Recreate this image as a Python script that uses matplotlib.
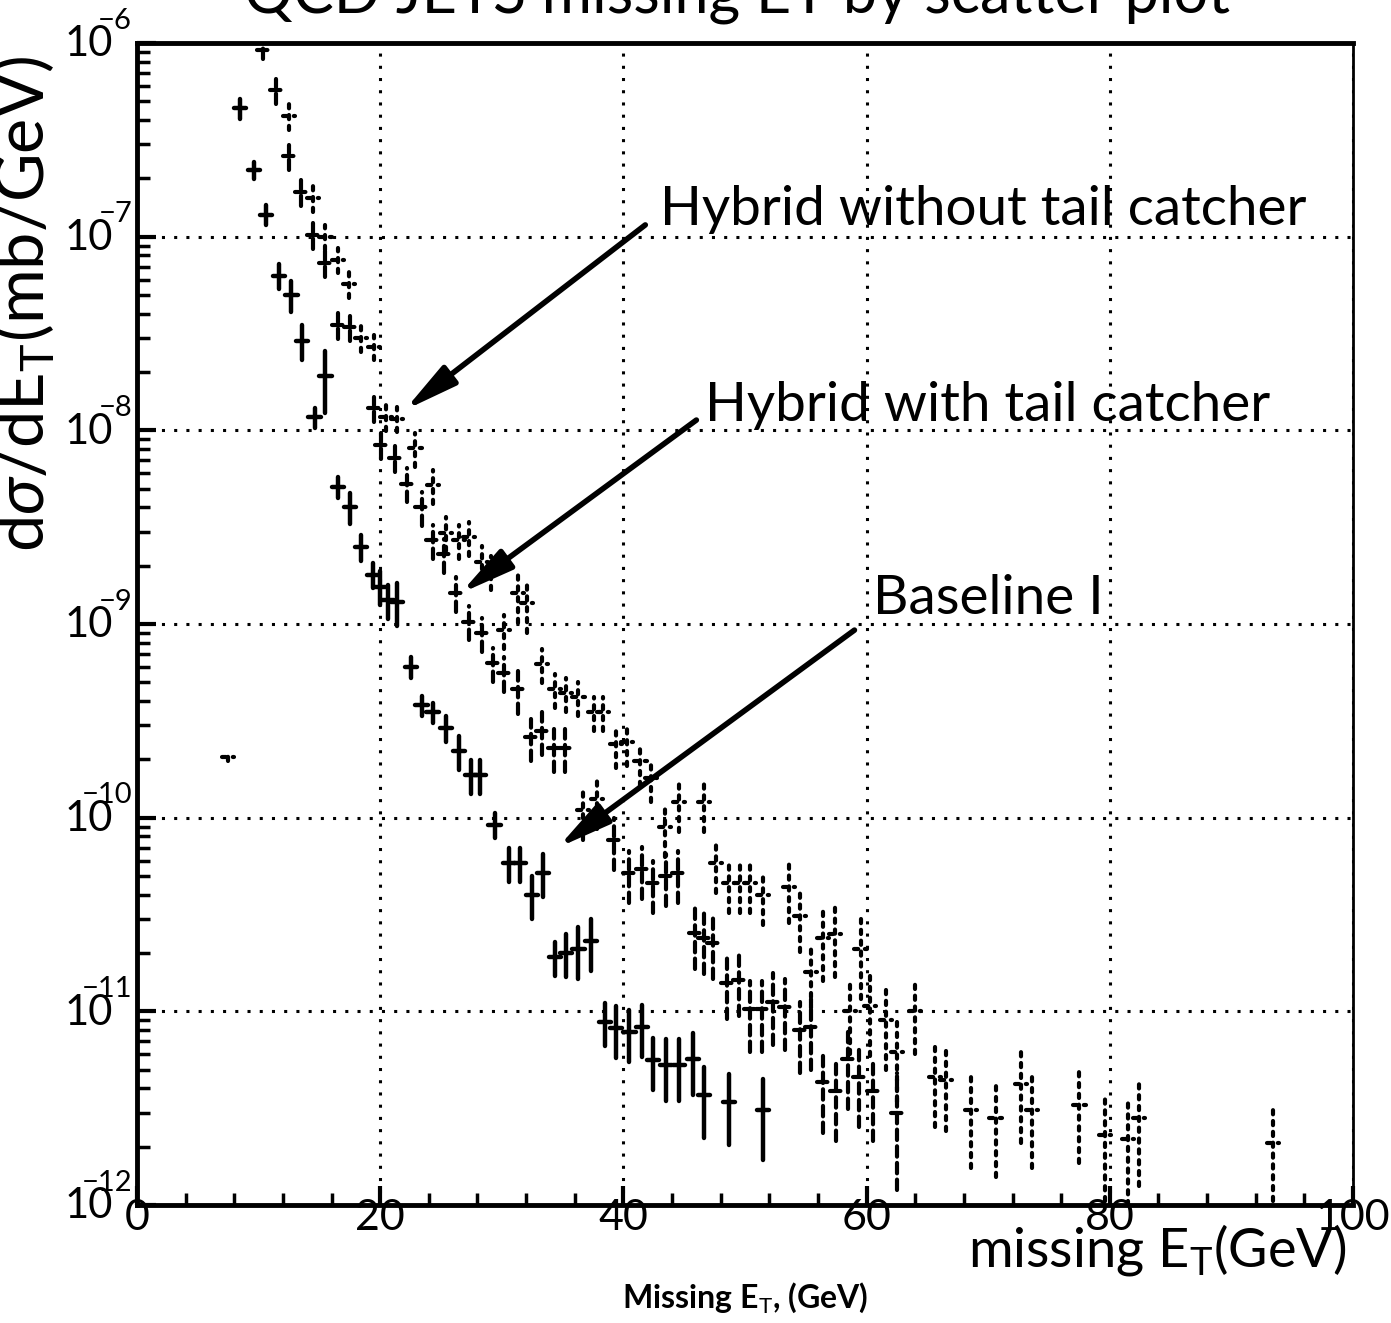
import numpy as np
import matplotlib.pyplot as plt
from matplotlib.ticker import MultipleLocator, LogLocator, NullFormatter

plt.rcParams['mathtext.fontset'] = 'custom'
plt.rcParams['mathtext.rm'] = 'Lato'
plt.rcParams['mathtext.it'] = 'Lato:italic'
plt.rcParams['mathtext.bf'] = 'Lato:bold'
plt.rcParams['mathtext.sf'] = 'Lato'
plt.rcParams['mathtext.fallback'] = 'stixsans'

# Baseline I (solid crosses)
base_x = [8.5, 9.6, 10.6, 11.7, 12.7, 13.6, 14.6, 15.5, 16.5, 17.5, 18.4, 19.4, 20.0, 20.6, 21.4,
          22.5, 23.4, 24.3, 25.4, 26.5, 27.5, 28.2, 29.4, 30.6, 31.5, 32.5, 33.4, 34.4, 35.3, 36.3,
          37.3, 38.5, 39.4, 40.5, 41.5, 42.4, 43.5, 44.6, 45.7, 46.6, 48.7, 51.5]
base_y = [4.6e-7, 2.2e-7, 1.3e-7, 6.3e-8, 5.0e-8, 2.9e-8, 1.17e-8, 1.9e-8, 5.1e-9, 4.0e-9, 2.5e-9, 1.8e-9,
          1.56e-9, 1.33e-9, 1.3e-9, 6.0e-10, 3.8e-10, 3.5e-10, 2.9e-10, 2.2e-10, 1.66e-10, 1.66e-10,
          9.2e-11, 5.8e-11, 5.8e-11, 4.0e-11, 5.2e-11, 1.9e-11, 2.0e-11, 2.1e-11, 2.3e-11, 8.8e-12,
          8.2e-12, 7.8e-12, 8.3e-12, 5.6e-12, 5.3e-12, 5.3e-12, 5.7e-12, 3.7e-12, 3.4e-12, 3.1e-12]
base_rel = [0.12, 0.1, 0.12, 0.15, 0.18, 0.2, 0.12, 0.35, 0.12, 0.18, 0.15, 0.15, 0.2, 0.2, 0.25,
            0.12, 0.12, 0.12, 0.15, 0.2, 0.2, 0.2, 0.15, 0.2, 0.2, 0.25, 0.25, 0.2, 0.25, 0.3,
            0.3, 0.25, 0.3, 0.3, 0.3, 0.3, 0.35, 0.35, 0.35, 0.4, 0.4, 0.45]

# Hybrid with tail catcher (dashed)
wtc_x = [10.4, 11.4, 12.5, 13.5, 14.5, 15.5, 16.5, 17.55, 19.5, 20.1, 21.2, 22.2, 23.4, 24.3, 25.25,
         26.2, 27.3, 28.4, 29.3, 30.2, 31.3, 32.4, 33.3, 34.3, 35.2, 39.2, 40.5, 41.5, 42.4, 43.5,
         44.5, 45.9, 46.6, 47.4, 48.5, 49.5, 50.4, 51.4, 52.3, 53.3, 54.5, 55.4, 56.4, 57.5, 58.5,
         59.4, 60.5, 62.5]
wtc_y = [9.2e-7, 5.7e-7, 2.6e-7, 1.7e-7, 1.02e-7, 7.3e-8, 3.5e-8, 3.4e-8, 1.3e-8, 8.4e-9, 7.2e-9,
         5.3e-9, 4.0e-9, 2.7e-9, 2.3e-9, 1.45e-9, 1.03e-9, 9.0e-10, 6.3e-10, 5.6e-10, 4.6e-10, 2.6e-10,
         2.8e-10, 2.3e-10, 2.3e-10, 7.7e-11, 5.2e-11, 5.4e-11, 4.6e-11, 5.0e-11, 5.2e-11, 2.55e-11,
         2.4e-11, 2.25e-11, 1.4e-11, 1.45e-11, 1.03e-11, 1.03e-11, 1.12e-11, 1.05e-11, 8.0e-12, 8.3e-12,
         4.3e-12, 3.9e-12, 5.7e-12, 4.6e-12, 3.9e-12, 3.0e-12]
wtc_rel = [0.1, 0.15, 0.15, 0.15, 0.15, 0.15, 0.15, 0.15, 0.15, 0.15, 0.15, 0.2, 0.2, 0.2, 0.2,
           0.2, 0.2, 0.2, 0.2, 0.2, 0.25, 0.25, 0.25, 0.25, 0.25, 0.3, 0.3, 0.3, 0.3, 0.3,
           0.3, 0.35, 0.35, 0.35, 0.35, 0.35, 0.4, 0.4, 0.4, 0.4, 0.4, 0.4, 0.45, 0.45, 0.45,
           0.45, 0.45, 0.6]

# Hybrid without tail catcher (dotted)
wotc_x = [7.5, 12.5, 14.5, 15.5, 16.5, 17.45, 18.4, 19.5, 20.5, 21.4, 22.9, 24.35, 25.4, 26.5, 27.3,
          28.4, 29.1, 30.2, 31.3, 32.1, 33.3, 34.4, 35.3, 36.3, 36.7, 37.6, 37.8, 38.3, 39.4, 40.3,
          41.4, 42.3, 43.4, 44.6, 46.6, 47.6, 48.7, 49.6, 50.4, 51.5, 53.6, 54.5, 55.4, 56.4, 57.4,
          58.6, 59.5, 60.3, 61.6, 62.5, 64.0, 65.6, 66.5, 68.6, 70.6, 72.7, 73.6, 77.5, 79.6, 81.5,
          82.4, 93.4]
wotc_y = [2.06e-10, 4.2e-7, 1.58e-7, 1.0e-7, 7.6e-8, 5.7e-8, 3.0e-8, 2.7e-8, 1.17e-8, 1.15e-8, 8.1e-9,
          5.2e-9, 2.96e-9, 2.7e-9, 2.8e-9, 2.1e-9, 1.88e-9, 9.3e-10, 1.45e-9, 1.28e-9, 6.2e-10, 4.6e-10,
          4.4e-10, 4.2e-10, 1.1e-10, 3.5e-10, 1.25e-10, 3.5e-10, 2.4e-10, 2.45e-10, 1.95e-10, 1.6e-10,
          9.0e-11, 1.2e-10, 1.2e-10, 5.8e-11, 4.6e-11, 4.6e-11, 4.6e-11, 4.0e-11, 4.4e-11, 3.1e-11,
          1.6e-11, 2.4e-11, 2.5e-11, 1.0e-11, 2.1e-11, 1.07e-11, 9.0e-12, 6.2e-12, 1.0e-11, 4.6e-12,
          4.4e-12, 3.1e-12, 2.8e-12, 4.2e-12, 3.1e-12, 3.3e-12, 2.3e-12, 2.2e-12, 2.8e-12, 2.1e-12]
wotc_rel = [0.05, 0.15, 0.15, 0.15, 0.15, 0.15, 0.15, 0.15, 0.15, 0.15, 0.2, 0.2, 0.2, 0.2, 0.2,
            0.2, 0.2, 0.2, 0.3, 0.3, 0.2, 0.2, 0.2, 0.2, 0.3, 0.2, 0.3, 0.2, 0.25, 0.25,
            0.25, 0.25, 0.3, 0.3, 0.3, 0.3, 0.3, 0.3, 0.3, 0.3, 0.35, 0.35, 0.35, 0.4, 0.4,
            0.4, 0.45, 0.45, 0.45, 0.45, 0.4, 0.45, 0.45, 0.5, 0.5, 0.5, 0.5, 0.5, 0.6, 0.6,
            0.55, 0.5]

x_ticks = [0, 20, 40, 60, 80, 100]
y_decades = [-12, -11, -10, -9, -8, -7, -6]

fig = plt.figure(figsize=(13.91, 13.23), dpi=100)
ax = fig.add_axes([0.0985, 0.0892, 0.8742, 0.8783])


def draw_series(x, y, rel, style, lw):
    x = np.array(x)
    y = np.array(y)
    err = y * np.array(rel)
    eb = ax.errorbar(x, y, yerr=err, xerr=0.5, fmt='none', ecolor='black',
                     elinewidth=lw, capsize=0)
    for coll in eb[2]:
        coll.set_linestyle(style)
        coll.set_capstyle('round')


draw_series(base_x, base_y, base_rel, '-', 3.2)
draw_series(wtc_x, wtc_y, wtc_rel, (0, (2.5, 1.5)), 3.0)
draw_series(wotc_x, wotc_y, wotc_rel, (0, (1, 1.6)), 3.0)

ax.set_xlim(0, 100)
ax.set_yscale('log')
ax.set_ylim(1e-12, 1e-6)
ax.set_xticks(x_ticks)
ax.xaxis.set_minor_locator(MultipleLocator(4))
ax.yaxis.set_major_locator(LogLocator(base=10, numticks=10))
ax.yaxis.set_minor_locator(LogLocator(base=10, subs=np.arange(2, 10), numticks=100))
ax.yaxis.set_major_formatter(NullFormatter())
ax.yaxis.set_minor_formatter(NullFormatter())
for lab in ax.get_xticklabels():
    lab.set_family('Lato')

# decade labels: "10" with the exponent sitting above its right half
for d in y_decades:
    ax.annotate('10', xy=(0, 10.0 ** d), xycoords=('axes fraction', 'data'),
                xytext=(-17, -1), textcoords='offset points', ha='right', va='center',
                fontsize=30, family='Lato', annotation_clip=False)
    ax.annotate('\u2212%d' % -d, xy=(0, 10.0 ** d), xycoords=('axes fraction', 'data'),
                xytext=(-3.5, 16), textcoords='offset points', ha='right', va='center',
                fontsize=21, family=['Lato', 'DejaVu Sans'], annotation_clip=False)

ax.grid(which='major', linestyle=(0, (1, 3)), linewidth=2.2, color='black')
ax.tick_params(which='major', direction='in', length=14, width=3, labelsize=31)
ax.tick_params(axis='x', pad=-4)
ax.tick_params(which='minor', direction='in', length=9, width=2.5)
ax.tick_params(top=False, right=False)
for side in ['left', 'bottom', 'top']:
    ax.spines[side].set_linewidth(3.5)
ax.spines['right'].set_linewidth(2)

# arrows and their labels
arrow_kw = dict(arrowstyle='-|>,head_length=1.6,head_width=0.35', lw=4, color='black',
                mutation_scale=20, shrinkA=0, shrinkB=0)
ax.annotate('', xy=(22.0, 1.27e-8), xytext=(41.8, 1.15e-7), arrowprops=arrow_kw)
ax.annotate('', xy=(26.6, 1.44e-9), xytext=(46.0, 1.13e-8), arrowprops=arrow_kw)
ax.annotate('', xy=(34.6, 7.0e-11), xytext=(59.0, 9.3e-10), arrowprops=arrow_kw)

label_kw = dict(fontsize=39.5, family='Lato', ha='left', va='baseline')
ax.text(43.0, 1.15e-7, 'Hybrid without tail catcher', **label_kw)
ax.text(46.7, 1.12e-8, 'Hybrid with tail catcher', **label_kw)
ax.text(60.5, 1.12e-9, 'Baseline I', **label_kw)

ax.set_ylabel(r'd$\sigma$/dE$_{\rm T}$(mb/GeV)', fontsize=48, family='Lato')
ax.yaxis.set_label_coords(-0.066, 0.775)

fig.text(0.968, 0.043, r'missing E$_{\rm T}$(GeV)', fontsize=39, family='Lato',
         ha='right', va='baseline')
fig.text(0.5356, 0.0113, r'Missing E$_{\rm T}$, (GeV)', fontsize=23, family='Lato',
         fontweight='bold', ha='center', va='baseline')
# page heading, mostly trimmed off the top edge
fig.text(0.53, 0.9905, 'QCD JETS missing ET by scatter plot', fontsize=44, family='Lato',
         ha='center', va='baseline')

fig.savefig('out.png', dpi=100)
